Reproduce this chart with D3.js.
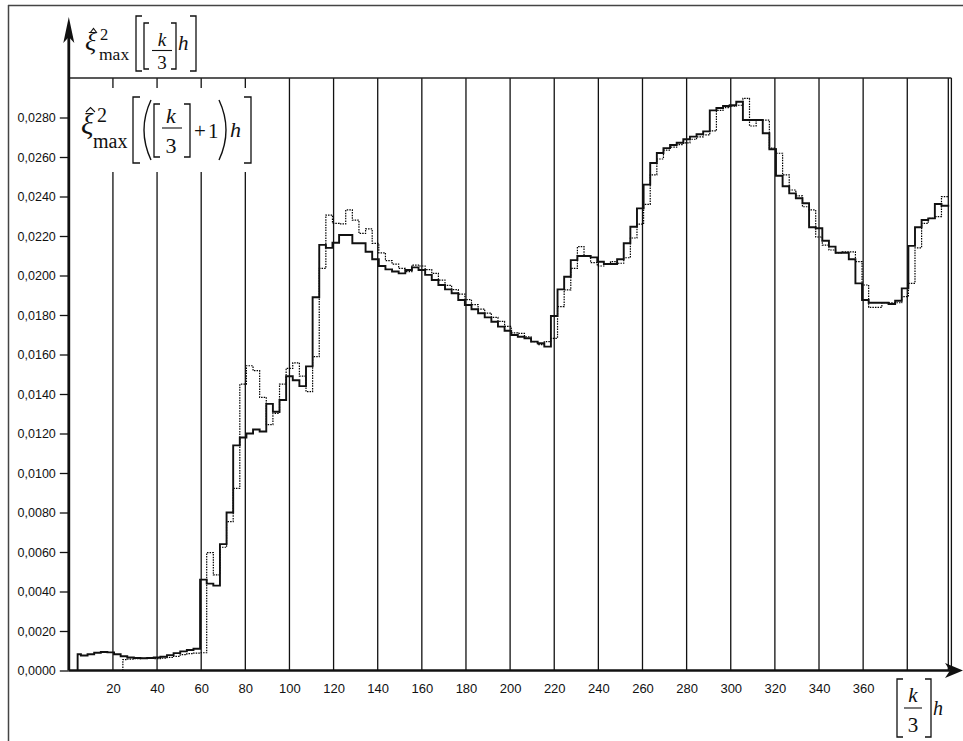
<!DOCTYPE html>
<html><head><meta charset="utf-8">
<script src="https://cdn.jsdelivr.net/npm/d3@7"></script>
<style>html,body{margin:0;padding:0;background:#fff;} svg{display:block;}</style>
</head><body><svg id="c" width="963" height="741"></svg>
<script>
// ---------- data ----------
const stepWidth = 3;
const solidFirstStep = 2.5, solidStart = 4, solidEnd = 399;
const solidValues = [
 0.00082,0.00076,0.00082,0.00090,0.00094,0.00092,0.00082,0.00072,0.00066,0.00063,
 0.00062,0.00063,0.00066,0.00070,0.00078,0.00088,0.00097,0.00104,0.00110,0.00460,
 0.00440,0.00430,0.00640,0.00800,0.01140,0.01180,0.01200,0.01220,0.01210,0.01350,
 0.01310,0.01370,0.01490,0.01470,0.01440,0.01540,0.01890,0.02155,0.02140,0.02166,
 0.02205,0.02205,0.02163,0.02163,0.02120,0.02082,0.02048,0.02031,0.02020,0.02011,
 0.02028,0.02041,0.02028,0.02003,0.01977,0.01952,0.01930,0.01910,0.01876,0.01851,
 0.01829,0.01809,0.01788,0.01766,0.01741,0.01720,0.01699,0.01690,0.01682,0.01665,
 0.01657,0.01640,0.01795,0.01930,0.01994,0.02078,0.02099,0.02099,0.02092,0.02070,
 0.02058,0.02058,0.02082,0.02163,0.02247,0.02340,0.02460,0.02570,0.02620,0.02645,
 0.02661,0.02672,0.02690,0.02703,0.02715,0.02730,0.02836,0.02848,0.02858,0.02862,
 0.02880,0.02787,0.02787,0.02787,0.02720,0.02639,0.02505,0.02452,0.02416,0.02391,
 0.02366,0.02244,0.02239,0.02176,0.02146,0.02115,0.02115,0.02082,0.01960,0.01876,
 0.01862,0.01862,0.01862,0.01856,0.01872,0.01935,0.02150,0.02244,0.02281,0.02289,
 0.02362,0.02353
];
const dottedFirstStep = 23.5, dottedStart = 24.5, dottedEnd = 398.5;
const dottedValues = [
 0.00055,0.00058,0.00060,0.00062,0.00062,0.00060,0.00062,0.00066,0.00072,0.00080,
 0.00085,0.00088,0.00090,0.00597,0.00484,0.00624,0.00754,0.00922,0.01450,0.01543,
 0.01518,0.01383,0.01245,0.01302,0.01450,0.01530,0.01558,0.01491,0.01412,0.01589,
 0.02036,0.02306,0.02264,0.02261,0.02332,0.02280,0.02213,0.02236,0.02163,0.02115,
 0.02075,0.02058,0.02036,0.02020,0.02053,0.02048,0.02030,0.02011,0.01977,0.01950,
 0.01928,0.01906,0.01878,0.01853,0.01830,0.01810,0.01788,0.01768,0.01742,0.01710,
 0.01707,0.01690,0.01665,0.01650,0.01665,0.01682,0.01842,0.01927,0.02036,0.02146,
 0.02099,0.02065,0.02048,0.02058,0.02070,0.02062,0.02090,0.02190,0.02260,0.02360,
 0.02510,0.02590,0.02635,0.02650,0.02663,0.02672,0.02690,0.02702,0.02712,0.02732,
 0.02836,0.02850,0.02858,0.02862,0.02897,0.02757,0.02787,0.02787,0.02645,0.02619,
 0.02509,0.02433,0.02403,0.02348,0.02332,0.02195,0.02154,0.02129,0.02115,0.02120,
 0.02120,0.02070,0.01952,0.01839,0.01839,0.01862,0.01862,0.01862,0.01893,0.01960,
 0.02140,0.02264,0.02289,0.02298,0.02399
];
const yTicks = [0,0.002,0.004,0.006,0.008,0.010,0.012,0.014,0.016,0.018,0.020,0.022,0.024,0.026,0.028];
const xTickLabels = [20,40,60,80,100,120,140,160,180,200,220,240,260,280,300,320,340,360];
const gridX = [20,40,60,80,100,120,140,160,180,200,220,240,260,280,300,320,340,360,380,398.6,400];

// ---------- scales ----------
const svg = d3.select("#c");
const x = d3.scaleLinear().domain([0, 400]).range([68.8, 951.4]);
const y = d3.scaleLinear().domain([0, 0.030]).range([670.5, 78]);
const ink = "#111";
const serif = "'Liberation Serif','Times New Roman',serif";
const sans = "'Liberation Sans',Arial,sans-serif";

// outer frame
svg.append("line").attr("x1",8.5).attr("x2",8.5).attr("y1",5).attr("y2",741).attr("stroke","#444").attr("stroke-width",1.5);
svg.append("line").attr("x1",8).attr("x2",963).attr("y1",5.5).attr("y2",5.5).attr("stroke","#444").attr("stroke-width",1.5);

// vertical grid lines
svg.append("g").selectAll("line").data(gridX).join("line")
  .attr("x1", d => x(d)).attr("x2", d => x(d))
  .attr("y1", y(0.030)).attr("y2", y(0))
  .attr("stroke", ink).attr("stroke-width", 1.3);

// top plot line
svg.append("line").attr("x1", x(0)).attr("x2", x(400)).attr("y1", y(0.030)).attr("y2", y(0.030))
  .attr("stroke", "#222").attr("stroke-width", 1.6);

// legend background (interrupts grid lines)
svg.append("rect").attr("x", 72).attr("y", 88).attr("width", 184).attr("height", 84).attr("fill", "#fff");

// y axis ticks and labels
const fmt = d => d3.format(".4f")(d).replace(".", ",");
const yAxis = svg.append("g").attr("transform", `translate(${x(0)},0)`)
  .call(d3.axisLeft(y).tickValues(yTicks).tickSize(9).tickPadding(4).tickFormat(fmt));
yAxis.select(".domain").remove();
yAxis.selectAll("line").attr("stroke", ink).attr("stroke-width", 1.3);
yAxis.selectAll("text").attr("font-family", sans).attr("font-size", 12.5).attr("fill", ink);

// x axis labels
const xAxis = svg.append("g").attr("transform", `translate(0,${y(0)})`)
  .call(d3.axisBottom(x).tickValues(xTickLabels).tickSize(0).tickPadding(13).tickFormat(d3.format("d")));
xAxis.select(".domain").remove();
xAxis.selectAll("text").attr("font-family", sans).attr("font-size", 13).attr("fill", ink);

// step series
function stepPoints(values, first, start, end) {
  const pts = [[start, 0]];
  values.forEach((v, i) => pts.push([i === 0 ? start : first + i * stepWidth, v]));
  pts.push([end, values[values.length - 1]]);
  return pts;
}
const line = d3.line().x(d => x(d[0])).y(d => y(d[1])).curve(d3.curveStepAfter);
svg.append("path").attr("d", line(stepPoints(dottedValues, dottedFirstStep, dottedStart, dottedEnd)))
  .attr("fill", "none").attr("stroke", "#000").attr("stroke-width", 1.2).attr("stroke-dasharray", "1.5,1.1");
svg.append("path").attr("d", line(stepPoints(solidValues, solidFirstStep, solidStart, solidEnd)))
  .attr("fill", "none").attr("stroke", ink).attr("stroke-width", 1.9);

// axes (thick) with arrows
svg.append("line").attr("x1", x(0)).attr("x2", x(0)).attr("y1", y(0)).attr("y2", 30)
  .attr("stroke", ink).attr("stroke-width", 2.8);
svg.append("path").attr("d", `M${x(0)},17 L${x(0)+5.5},43 L${x(0)},37 L${x(0)-5.5},43 Z`).attr("fill", ink);
svg.append("line").attr("x1", x(0)).attr("x2", 955).attr("y1", y(0)).attr("y2", y(0))
  .attr("stroke", ink).attr("stroke-width", 2.6);
svg.append("path").attr("d", `M963,${y(0)} L945,${y(0)-7.5} L950,${y(0)} L945,${y(0)+7.5} Z`).attr("fill", ink);

// ---------- formula helpers ----------
function txt(g, s, xx, yy, size, italic, anchor) {
  g.append("text").attr("x", xx).attr("y", yy).text(s)
    .attr("font-family", serif).attr("font-size", size)
    .attr("font-style", italic ? "italic" : "normal")
    .attr("text-anchor", anchor || "start").attr("fill", ink);
}
function supSub(g, xs, ys, xb, yb, sizeSup, sizeSub) {
  txt(g, "2", xs, ys, sizeSup);
  txt(g, "max", xb, yb, sizeSub);
}
function frac(g, cx, yk, y3, size, x1, x2, yl) {
  txt(g, "k", cx, yk, size, true, "middle");
  txt(g, "3", cx, y3, size, false, "middle");
  g.append("line").attr("x1",x1).attr("x2",x2).attr("y1",yl).attr("y2",yl).attr("stroke",ink).attr("stroke-width",1.1);
}
function lbr(g, xx, y1, y2, w) { g.append("path").attr("d", `M${xx+w},${y1} H${xx} V${y2} H${xx+w}`).attr("fill","none").attr("stroke",ink).attr("stroke-width",1.3); }
function rbr(g, xx, y1, y2, w) { g.append("path").attr("d", `M${xx-w},${y1} H${xx} V${y2} H${xx-w}`).attr("fill","none").attr("stroke",ink).attr("stroke-width",1.3); }
function hat(g, xx, yy, w) { g.append("path").attr("d", `M${xx},${yy} L${xx+w/2},${yy-4.5} L${xx+w},${yy}`).attr("fill","none").attr("stroke",ink).attr("stroke-width",1.1); }

// y-axis title
const t = svg.append("g");
txt(t, "ξ", 85, 49.5, 26, true);
hat(t, 90, 33, 7);
supSub(t, 100, 40, 99, 59.5, 16.5, 17.5);
lbr(t, 136, 16, 71, 6);
lbr(t, 144, 23, 69, 5);
frac(t, 162, 46, 68.5, 19, 152, 172, 50.5);
rbr(t, 176, 23, 69, 5);
txt(t, "h", 178, 50, 21, true);
rbr(t, 196, 16, 71, 6);

// legend formula
const l = svg.append("g");
txt(l, "ξ", 81, 133.5, 29, true);
hat(l, 86, 112, 9);
supSub(l, 97, 122, 93, 148, 20, 20);
lbr(l, 133, 97, 163, 7);
l.append("path").attr("d", "M151,100 Q137,130 151,160").attr("fill","none").attr("stroke",ink).attr("stroke-width",1.4);
lbr(l, 154, 104, 157, 6);
frac(l, 171, 123, 153, 22, 162, 182, 128);
rbr(l, 190, 104, 157, 6);
txt(l, "+", 194, 138, 21);
txt(l, "1", 208, 138, 21);
l.append("path").attr("d", "M219,100 Q233,130 219,160").attr("fill","none").attr("stroke",ink).attr("stroke-width",1.4);
txt(l, "h", 230, 137, 22, true);
rbr(l, 251, 97, 163, 7);

// x-axis title
const b = svg.append("g");
lbr(b, 897, 679, 737, 6);
frac(b, 913, 702, 732, 21, 904, 922, 708);
rbr(b, 931, 679, 737, 6);
txt(b, "h", 933, 715, 20, true);
</script>
</body></html>
